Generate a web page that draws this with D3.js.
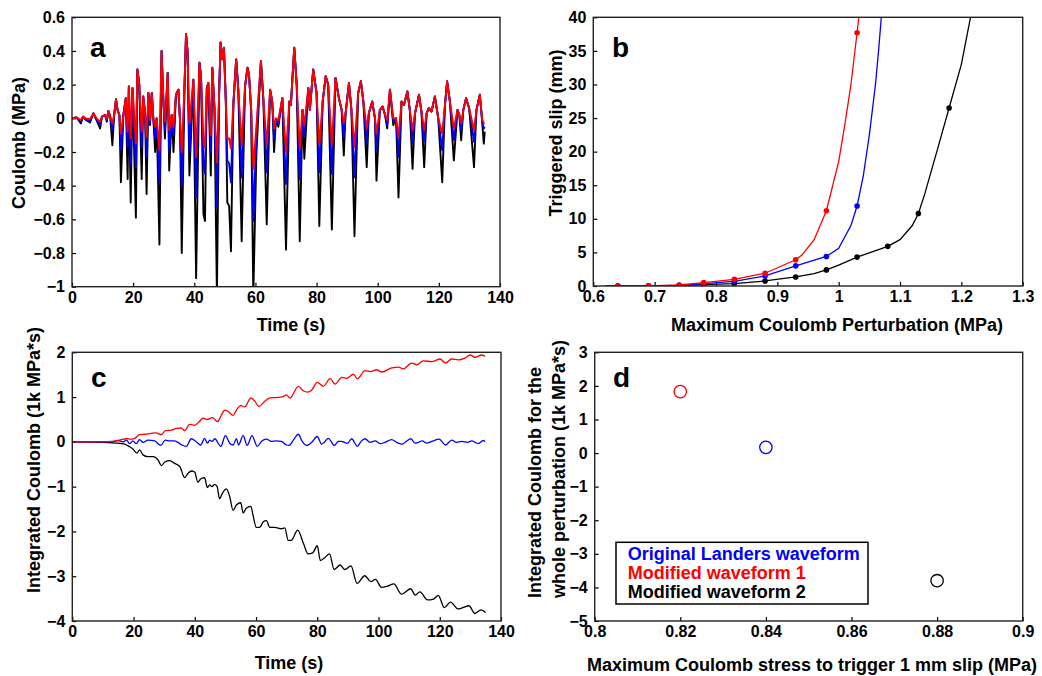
<!DOCTYPE html>
<html><head><meta charset="utf-8">
<script src="https://cdn.jsdelivr.net/npm/d3@7"></script>
<style>
body{margin:0;background:#fff}
text{font-family:"Liberation Sans",Arial,sans-serif;font-weight:bold;fill:#000}
</style></head>
<body><svg id="chart" width="1042" height="676"></svg>
<script>
// ---------------- Panel a : Coulomb stress time series ----------------
const aTime = [0,1.5,2.9,3.6,4.5,5.9,7.0,8.0,9.2,9.8,10.8,11.4,11.9,12.5,13.2,13.8,14.4,14.9,15.5,16.0,16.8,17.6,18.2,18.6,19.2,19.8,20.9,21.4,22.0,22.8,23.3,23.9,24.4,25.0,25.5,26.1,26.6,27.2,27.7,28.6,29.3,29.9,30.4,31.3,31.8,32.6,33.2,34.0,34.8,35.3,35.9,36.8,37.3,37.8,38.4,39.7,40.6,41.7,42.2,43.0,43.5,44.1,44.6,45.4,45.9,46.6,47.4,48.1,48.6,49.2,49.7,50.3,50.8,51.4,52.0,52.8,53.7,54.4,55.5,56.6,57.4,57.9,58.6,59.3,60.3,61.8,62.6,63.7,64.8,65.5,66.1,66.7,67.5,68.8,70.0,71.1,71.6,72.7,73.5,74.5,75.4,76.0,77.3,77.8,78.9,80.0,80.9,82.0,83.0,83.8,85.0,86.2,87.3,88.2,88.9,89.5,90.6,91.4,92.4,93.6,94.5,95.3,96.4,97.1,98.2,99.1,99.6,100.7,101.6,102.4,103.1,104.0,105.1,106.0,106.8,107.8,108.6,109.7,110.5,111.4,112.2,113.5,114.3,115.2,116.0,116.7,117.6,118.7,119.8,121.1,122.0,122.7,123.6,124.9,126.1,126.7,127.3,128.0,128.9,129.9,131.5,132.3,133.4,134.2,134.7,135.0];
// Modified waveform 2 (black)
const aMod2 = [0,0.005,-0.03,0.01,-0.01,-0.025,0.03,-0.01,-0.06,0.01,0.02,-0.02,0.044,0.01,-0.16,0.02,0.113,0.05,0.02,-0.38,0.02,0.12,-0.36,0.19,-0.50,0.18,-0.59,0.29,0.2,-0.36,0.13,0.03,-0.45,0.15,-0.04,0.15,0.0,-0.2,0.0,-0.75,0.40,0.1,-0.12,0.27,-0.31,0.02,-0.2,0.14,0.17,0.0,-0.80,0.19,0.5,0.4,-0.34,0.23,-0.95,0.33,0.25,-0.57,-0.61,0.18,0.21,-0.34,0.3,0.06,-1.06,0.13,0.45,0.35,0.42,0.11,-0.5,-0.52,-0.79,0.09,0.35,0.17,-0.73,0.19,0.3,0.26,0.05,-1.06,-0.22,0.34,0.11,-0.63,0.17,0.1,-0.2,-0.01,-0.05,0.12,-0.78,0.1,0.08,0.42,0.2,-0.73,0.05,-0.24,0.18,0.05,0.29,0.15,-0.64,0.1,0.25,0.2,-0.66,0.24,0.12,0.05,-0.22,0.03,0.21,0.05,-0.70,0.15,0.22,0.1,-0.29,0.03,0.1,0.0,-0.37,0.05,0.07,0.02,-0.06,0.17,-0.04,0.0,-0.47,0.1,0.08,0.16,0.05,-0.30,0.03,0.14,0.04,-0.29,0.03,0.06,0.04,0.13,0.0,-0.38,0.08,0.22,0.1,-0.25,0.05,0.02,-0.13,0.05,0.12,0.06,-0.29,0.05,0.14,-0.03,-0.15,-0.08];
// Original Landers waveform (blue)
const aOrig = [0,0.005,-0.02,0.01,-0.005,-0.015,0.03,-0.005,-0.04,0.01,0.02,-0.01,0.044,0.01,-0.07,0.02,0.113,0.05,0.02,-0.19,0.02,0.12,-0.17,0.19,-0.27,0.18,-0.29,0.29,0.2,-0.17,0.13,0.03,-0.23,0.15,-0.03,0.15,0.0,-0.12,0.0,-0.38,0.40,0.1,-0.07,0.27,-0.2,0.02,-0.1,0.14,0.17,0.0,-0.40,0.19,0.5,0.4,-0.2,0.23,-0.47,0.33,0.25,-0.28,-0.33,0.18,0.21,-0.2,0.3,0.06,-0.53,0.13,0.45,0.35,0.42,0.11,-0.25,-0.27,-0.38,0.09,0.35,0.17,-0.35,0.19,0.3,0.26,0.05,-0.61,-0.1,0.34,0.11,-0.32,0.17,0.1,-0.12,-0.005,-0.03,0.12,-0.39,0.1,0.08,0.42,0.2,-0.36,0.05,-0.1,0.18,0.05,0.29,0.15,-0.32,0.1,0.25,0.2,-0.33,0.24,0.12,0.05,-0.11,0.03,0.21,0.05,-0.35,0.15,0.22,0.1,-0.15,0.03,0.1,0.0,-0.19,0.05,0.07,0.02,-0.04,0.17,-0.02,0.0,-0.23,0.1,0.08,0.16,0.05,-0.15,0.03,0.14,0.04,-0.14,0.03,0.06,0.04,0.13,0.0,-0.19,0.08,0.22,0.1,-0.13,0.05,0.02,-0.07,0.05,0.12,0.06,-0.14,0.05,0.14,-0.02,-0.06,-0.05];
// Modified waveform 1 (red)
const aMod1 = [0,0.005,-0.01,0.01,0,-0.005,0.03,0,-0.02,0.01,0.02,-0.005,0.044,0.01,-0.03,0.02,0.113,0.05,0.02,-0.09,0.02,0.12,-0.08,0.19,-0.12,0.18,-0.15,0.29,0.2,-0.08,0.13,0.03,-0.11,0.15,-0.01,0.15,0.0,-0.05,0.0,-0.19,0.40,0.1,-0.02,0.27,-0.07,0.02,-0.05,0.14,0.17,0.0,-0.20,0.19,0.5,0.4,-0.03,0.23,-0.23,0.33,0.25,-0.14,-0.17,0.18,0.21,-0.1,0.3,0.06,-0.26,0.13,0.45,0.35,0.42,0.11,-0.12,-0.12,-0.18,0.09,0.35,0.17,-0.16,0.19,0.3,0.26,0.05,-0.30,-0.05,0.34,0.11,-0.16,0.17,0.1,-0.06,0.0,-0.01,0.12,-0.2,0.1,0.08,0.42,0.2,-0.18,0.05,-0.04,0.18,0.05,0.29,0.15,-0.16,0.1,0.25,0.2,-0.16,0.24,0.12,0.05,-0.03,0.03,0.21,0.05,-0.17,0.15,0.22,0.1,-0.06,0.03,0.1,0.0,-0.09,0.05,0.07,0.02,-0.01,0.17,0.0,0.0,-0.11,0.1,0.08,0.16,0.05,-0.07,0.03,0.14,0.04,-0.07,0.03,0.06,0.04,0.13,0.0,-0.09,0.08,0.22,0.1,-0.06,0.05,0.02,-0.03,0.05,0.12,0.06,-0.07,0.05,0.14,-0.01,-0.03,-0.03];
const aXTicks = [0,20,40,60,80,100,120,140];
const aYTicks = [-1,-0.8,-0.6,-0.4,-0.2,0,0.2,0.4,0.6];

// ---------------- Panel b : triggered slip ----------------
const bOrigLineX = [0.62,0.64,0.69,0.74,0.78,0.83,0.88,0.93,0.98,1.0,1.02,1.03,1.04,1.05,1.06,1.065,1.07];
const bOrigLineY = [0,0,0.02,0.1,0.35,0.7,1.5,3.0,4.4,5.6,9.0,11.9,16.3,22.5,30,35,40.5];
const bMod1LineX = [0.62,0.64,0.69,0.74,0.78,0.83,0.88,0.93,0.94,0.96,0.98,1.0,1.01,1.02,1.03,1.034];
const bMod1LineY = [0,0,0.02,0.15,0.5,1.0,1.9,3.9,4.6,6.9,11.2,18.5,24,30,37.7,41];
const bMod2LineX = [0.62,0.64,0.69,0.74,0.78,0.83,0.88,0.93,0.96,0.98,1.0,1.03,1.08,1.10,1.12,1.13,1.14,1.16,1.18,1.2,1.216];
const bMod2LineY = [0,0,0,0.05,0.2,0.35,0.75,1.35,1.85,2.4,3.1,4.3,5.9,6.9,9.0,10.8,13.6,20,26.5,33,40.5];
const bOrigMarkX = [0.64,0.69,0.74,0.78,0.83,0.88,0.93,0.98,1.03];
const bOrigMarkY = [0,0.02,0.1,0.35,0.7,1.5,3.0,4.4,11.9];
const bMod1MarkX = [0.64,0.69,0.74,0.78,0.83,0.88,0.93,0.98,1.03];
const bMod1MarkY = [0,0.02,0.15,0.5,1.0,1.9,3.9,11.2,37.7];
const bMod2MarkX = [0.64,0.69,0.74,0.78,0.83,0.88,0.93,0.98,1.03,1.08,1.13,1.18];
const bMod2MarkY = [0,0,0.05,0.2,0.35,0.75,1.35,2.4,4.3,5.9,10.8,26.5];
const bXTicks = [0.6,0.7,0.8,0.9,1.0,1.1,1.2,1.3];
const bYTicks = [0,5,10,15,20,25,30,35,40];

// ---------------- Panel c : integrated Coulomb ----------------
const cMod1T = [0,10,13,14.9,17.7,19.0,20.4,22,23.7,25.8,27.4,29.1,30.4,32.3,34,35.6,36.7,38.3,40,41.4,42.7,44.1,45.7,47.4,48.7,49.8,50.9,52.5,53.6,55,56.3,58.3,59.6,60.9,62.8,64.5,66.6,68.8,69.9,71.1,73.8,75.4,76.8,78.2,80,82,84.2,85.8,88,89.6,91.8,93.1,95.6,97.5,99.4,101,104.3,106.5,108.1,110.8,112.5,114.6,117.4,120.1,121.9,123.9,126.1,128.2,129.9,131.5,133.7,134.8];
const cMod1V = [0,0,0.01,0.03,0.07,0.06,0.08,0.16,0.17,0.19,0.2,0.16,0.25,0.26,0.3,0.31,0.25,0.39,0.37,0.45,0.53,0.5,0.54,0.45,0.6,0.71,0.68,0.59,0.71,0.81,0.78,0.98,0.91,0.79,0.9,0.98,0.99,1.01,1.05,0.98,1.24,1.14,1.11,1.16,1.33,1.24,1.41,1.29,1.44,1.42,1.51,1.41,1.59,1.57,1.61,1.56,1.65,1.67,1.63,1.76,1.72,1.81,1.79,1.85,1.76,1.85,1.83,1.87,1.94,1.89,1.94,1.91];
const cOrigT = [0,13,14.9,16.6,17.7,18.7,19.8,20.9,22,23.1,24.7,26.9,28.9,30.4,31.8,33.2,34.5,35.8,37.2,38.9,40.2,41.9,43.2,44.1,44.9,45.7,46.5,48.5,50,51.4,52.5,53.6,54.3,55.8,57.1,58.7,60.4,61.9,63.4,65,66.6,68.3,69.9,70.8,72.2,73.8,75.1,76.5,78.2,80,81.4,82.3,83.6,85.6,86.9,88,88.8,89.9,91.2,93.1,94.3,95.6,97.2,98.9,100.5,102.1,104.3,105.9,107.8,109.2,110.6,111.9,113,114.3,115.7,117.4,119.8,121.9,123.9,125.5,127.2,129.1,130.4,132.6,134.2,134.8];
const cOrigV = [0,0,0.03,0,0.04,-0.04,0.02,-0.04,0.05,-0.01,0.04,0.02,-0.08,0.04,0.02,0.02,-0.01,-0.07,-0.1,0.07,0.02,-0.07,0.08,-0.03,0.04,0.01,0.07,-0.1,0.14,-0.03,-0.07,0.07,-0.07,0.14,-0.08,0.14,-0.1,0.02,0.06,0.01,0.02,0.01,-0.07,-0.08,0.04,0.17,0.01,-0.08,-0.01,0.12,-0.05,-0.01,0.08,-0.08,0.01,0.01,-0.01,-0.03,0.07,-0.1,0.01,0.07,-0.01,0.02,-0.04,-0.01,0.05,-0.01,-0.05,0.02,0.07,-0.03,-0.01,0.02,-0.03,0.01,0.06,-0.07,0.04,-0.01,0.01,-0.01,0.02,-0.04,0.03,0.01];
const cMod2T = [0,10,13,14.9,17.1,18.5,19.8,21.1,22,23.1,24.7,26.4,28,29.1,30.2,31.8,33.4,35.1,36.7,37.8,39.1,40,41,41.9,43.2,44.1,44.9,45.6,46.5,47.3,48.1,49,50.3,51.4,52.5,53.6,55,55.8,56.8,58.3,59,60.1,61.2,62.3,63.4,64.5,66.1,68.3,69.4,70.5,71.5,73.6,75.5,77,78.5,80,81,82.5,84,85.5,87.5,89,91,93,95.5,97.5,99,101,103,105,107.5,110.5,112,113.5,116,118,119.5,121.5,123.5,126,129.5,131.5,133.5,135];
const cMod2V = [0,-0.01,-0.02,-0.03,-0.05,-0.1,-0.16,-0.25,-0.18,-0.29,-0.33,-0.33,-0.4,-0.53,-0.45,-0.42,-0.48,-0.55,-0.8,-0.7,-0.65,-0.68,-0.9,-0.83,-0.8,-1.02,-0.96,-1.0,-0.95,-1.0,-1.27,-1.15,-1.05,-1.22,-1.53,-1.41,-1.36,-1.59,-1.48,-1.44,-1.63,-1.91,-1.91,-1.79,-1.76,-1.91,-1.91,-1.94,-1.92,-2.2,-2.2,-1.97,-2.27,-2.5,-2.48,-2.32,-2.65,-2.58,-2.5,-2.85,-2.75,-2.85,-2.77,-3.16,-2.99,-3.12,-3.07,-3.25,-3.22,-3.17,-3.4,-3.28,-3.42,-3.35,-3.53,-3.51,-3.43,-3.7,-3.58,-3.73,-3.66,-3.83,-3.75,-3.81];
const cXTicks = [0,20,40,60,80,100,120,140];
const cYTicks = [-4,-3,-2,-1,0,1,2];

// ---------------- Panel d : summary ----------------
const dNames = ["Original Landers waveform","Modified waveform 1","Modified waveform 2"];
const dStress = [0.84,0.82,0.88];
const dIntegrated = [0.17,1.83,-3.8];
const dColors = ["#0000ff","#ff0000","#000000"];
const dXTicks = [0.8,0.82,0.84,0.86,0.88,0.9];
const dYTicks = [-5,-4,-3,-2,-1,0,1,2,3];

// ---------------- drawing ----------------
const svg = d3.select("#chart");
const fmt = d => String(+(+d).toFixed(3)).replace("-", "\u2212");

function panel(id, box, xDom, yDom, xTicks, yTicks) {
  const g = svg.append("g");
  const x = d3.scaleLinear().domain(xDom).range([box.l, box.r]);
  const y = d3.scaleLinear().domain(yDom).range([box.b, box.t]);
  svg.append("clipPath").attr("id", id).append("rect")
    .attr("x", box.l).attr("y", box.t).attr("width", box.r - box.l).attr("height", box.b - box.t);
  const ax = g.append("g").attr("transform", `translate(0,${box.b})`)
    .call(d3.axisBottom(x).tickValues(xTicks).tickSize(-4).tickPadding(5).tickFormat(fmt));
  const ay = g.append("g").attr("transform", `translate(${box.l},0)`)
    .call(d3.axisLeft(y).tickValues(yTicks).tickSize(-4).tickPadding(7).tickFormat(fmt));
  [ax, ay].forEach(a => {
    a.select(".domain").remove();
    a.selectAll("line").attr("stroke", "#000").attr("stroke-width", 1.2);
    a.selectAll("text").attr("font-size", 16).attr("font-family", '"Liberation Sans",Arial,sans-serif').attr("font-weight", "bold").attr("fill", "#000");
  });
  const plot = svg.append("g").attr("clip-path", `url(#${id})`);
  svg.append("rect").attr("x", box.l).attr("y", box.t).attr("width", box.r - box.l).attr("height", box.b - box.t)
    .attr("fill", "none").attr("stroke", "#222").attr("stroke-width", 1.4);
  return {x, y, plot};
}

function rotText(x, y, txt, anchor) {
  svg.append("text").attr("transform", `translate(${x},${y}) rotate(-90)`)
    .attr("text-anchor", anchor || "middle").attr("font-size", 18).text(txt);
}
function hText(x, y, txt, size, anchor, color) {
  return svg.append("text").attr("x", x).attr("y", y).attr("text-anchor", anchor || "middle")
    .attr("font-size", size).style("fill", color || "#000").text(txt);
}

// Panel a
{
  const P = panel("clipA", {l:72, r:500, t:17.3, b:286.7}, [0,140], [-1,0.6], aXTicks, aYTicks);
  const series = [[aMod2, "#000000"], [aOrig, "#0000ff"], [aMod1, "#ff0000"]];
  series.forEach(([vals, col]) => {
    const line = d3.line().x((d, i) => P.x(aTime[i])).y(d => P.y(d));
    P.plot.append("path").datum(vals).attr("d", line).attr("fill", "none")
      .attr("stroke", col).attr("stroke-width", 1.9).attr("stroke-linejoin", "round");
  });
  hText(90, 57, "a", 28, "start");
  hText(291, 331, "Time (s)", 18);
  rotText(25, 143, "Coulomb (MPa)");
}

// Panel b
{
  const P = panel("clipB", {l:593.3, r:1022.7, t:17.3, b:286}, [0.6,1.3], [0,40], bXTicks, bYTicks);
  const sets = [
    [bMod2LineX, bMod2LineY, bMod2MarkX, bMod2MarkY, "#000000"],
    [bOrigLineX, bOrigLineY, bOrigMarkX, bOrigMarkY, "#0000ff"],
    [bMod1LineX, bMod1LineY, bMod1MarkX, bMod1MarkY, "#ff0000"]
  ];
  sets.forEach(([lx, ly, mx, my, col]) => {
    const line = d3.line().x((d, i) => P.x(lx[i])).y(d => P.y(d));
    P.plot.append("path").datum(ly).attr("d", line).attr("fill", "none")
      .attr("stroke", col).attr("stroke-width", 1.3);
    P.plot.selectAll(null).data(my).enter().append("circle")
      .attr("cx", (d, i) => P.x(mx[i])).attr("cy", d => P.y(d)).attr("r", 2.8).attr("fill", col);
  });
  hText(612, 57, "b", 28, "start");
  hText(837, 331, "Maximum Coulomb Perturbation (MPa)", 18);
  rotText(561.5, 133, "Triggered slip (mm)");
}

// Panel c
{
  const P = panel("clipC", {l:72.3, r:501, t:352.3, b:621}, [0,140], [-4,2], cXTicks, cYTicks);
  const sets = [[cMod2T, cMod2V, "#000000"], [cOrigT, cOrigV, "#0000ff"], [cMod1T, cMod1V, "#ff0000"]];
  sets.forEach(([tt, vv, col]) => {
    const line = d3.line().x((d, i) => P.x(tt[i])).y(d => P.y(d)).curve(d3.curveMonotoneX);
    P.plot.append("path").datum(vv).attr("d", line).attr("fill", "none")
      .attr("stroke", col).attr("stroke-width", 1.3);
  });
  hText(91, 387, "c", 28, "start");
  hText(289, 669, "Time (s)", 18);
  rotText(39.5, 460, "Integrated Coulomb (1k MPa*s)");
}

// Panel d
{
  const P = panel("clipD", {l:594.7, r:1022.7, t:352.3, b:621}, [0.8,0.9], [-5,3], dXTicks, dYTicks);
  P.plot.selectAll(null).data(dIntegrated).enter().append("circle")
    .attr("cx", (d, i) => P.x(dStress[i])).attr("cy", d => P.y(d)).attr("r", 6.2)
    .attr("fill", "none").attr("stroke", (d, i) => dColors[i]).attr("stroke-width", 1.3);
  svg.append("rect").attr("x", 616).attr("y", 542.3).attr("width", 252).attr("height", 61.7)
    .attr("fill", "#fff").attr("stroke", "#000").attr("stroke-width", 1.5);
  dNames.forEach((n, i) => hText(627.7, 560 + i * 19.2, n, 18, "start", dColors[i]));
  hText(613, 387, "d", 28, "start");
  hText(812, 671, "Maximum Coulomb stress to trigger 1 mm slip (MPa)", 18);
  rotText(541.3, 598, "Integrated Coulomb for the", "start");
  rotText(564.7, 598, "whole perturbation (1k MPa*s)", "start");
}
</script></body></html>
